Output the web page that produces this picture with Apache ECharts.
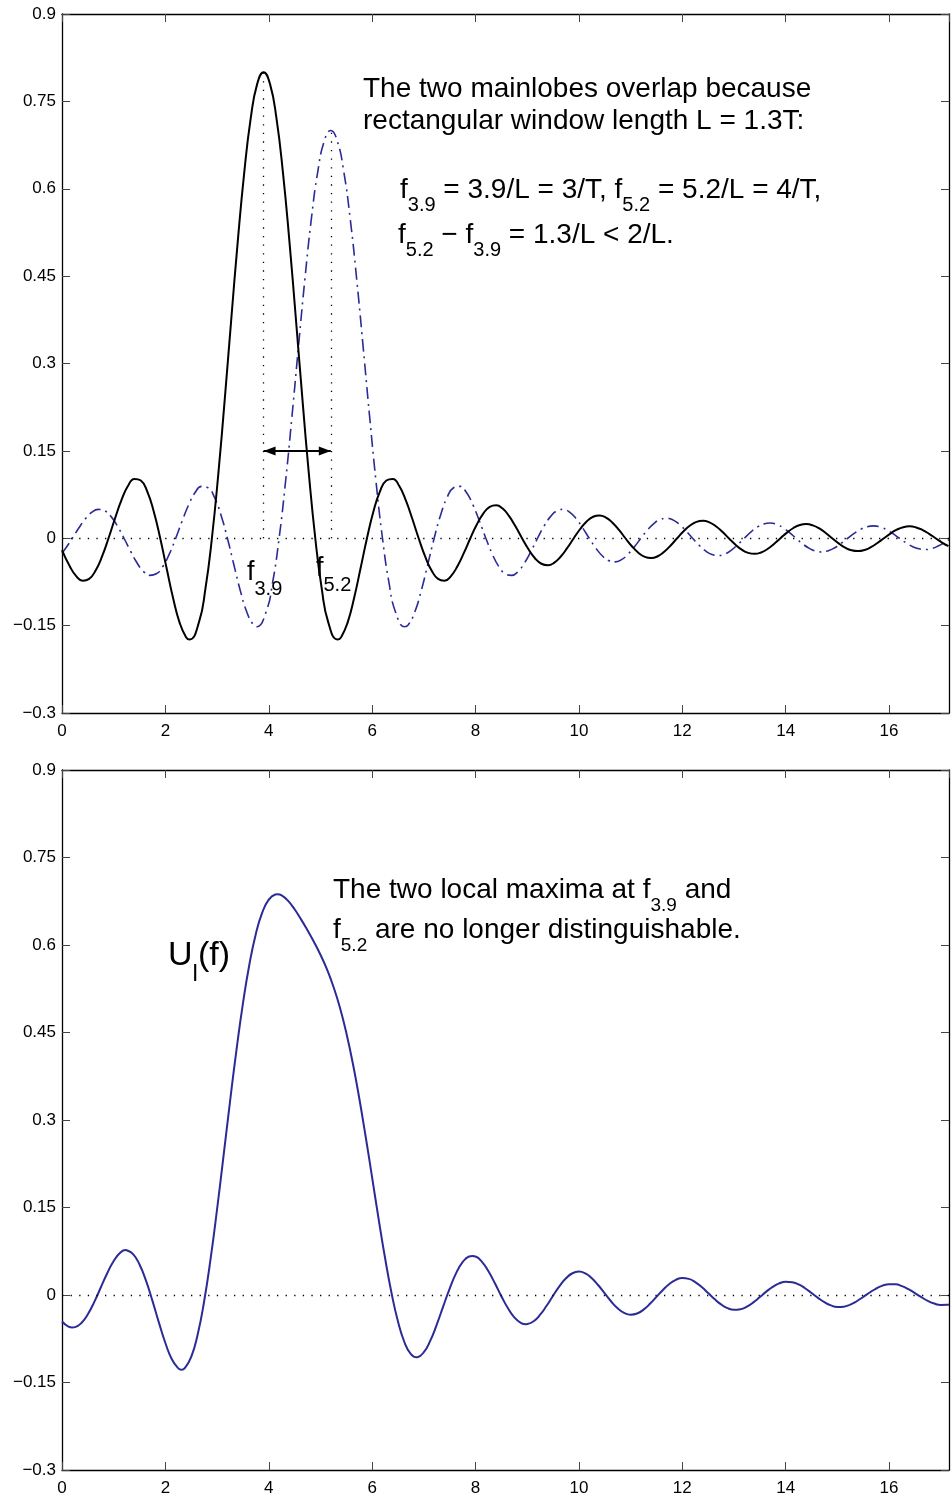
<!DOCTYPE html>
<html>
<head>
<meta charset="utf-8">
<script src="https://cdn.jsdelivr.net/npm/echarts@6/dist/echarts.min.js"></script>
<style>
html,body{margin:0;padding:0;background:#fff;}
#chart{width:952px;height:1501px;}
</style>
</head>
<body>
<div id="chart"></div>
<script>
// ---------------- data: [f, value] ----------------
// top panel, solid black curve (mainlobe at f = 3.9)
const blackCurve = [
  [0,-0.0202],[0.15,-0.0480],[0.275,-0.0649],[0.4,-0.0728],[0.525,-0.0697],[0.65,-0.0554],[0.775,-0.0312],[0.9,0],
  [1.025,0.0339],[1.15,0.0655],[1.275,0.0896],[1.4,0.1019],[1.525,0.0991],[1.65,0.0800],[1.775,0.0459],[1.9,0],
  [2.025,-0.0520],[2.15,-0.1029],[2.275,-0.1448],[2.4,-0.1698],[2.47,-0.1738],[2.65,-0.1440],[2.775,-0.0866],[2.9,0],
  [3.025,0.1114],[3.15,0.2401],[3.275,0.3764],[3.4,0.5093],[3.525,0.6274],[3.65,0.7203],[3.775,0.7796],[3.9,0.8],
  [4.025,0.7796],[4.15,0.7203],[4.275,0.6274],[4.4,0.5093],[4.525,0.3764],[4.65,0.2401],[4.775,0.1114],[4.9,0],
  [5.025,-0.0866],[5.15,-0.1440],[5.33,-0.1738],[5.4,-0.1698],[5.525,-0.1448],[5.65,-0.1029],[5.775,-0.0520],[5.9,0],
  [6.025,0.0459],[6.15,0.0800],[6.275,0.0991],[6.4,0.1019],[6.525,0.0896],[6.65,0.0655],[6.775,0.0339],[6.9,0],
  [7.025,-0.0312],[7.15,-0.0554],[7.275,-0.0697],[7.4,-0.0728],[7.525,-0.0649],[7.65,-0.0480],[7.775,-0.0252],[7.9,0],
  [8.025,0.0236],[8.15,0.0424],[8.275,0.0538],[8.4,0.0566],[8.525,0.0509],[8.65,0.0379],[8.775,0.0200],[8.9,0],
  [9.025,-0.0190],[9.15,-0.0343],[9.275,-0.0438],[9.4,-0.0463],[9.525,-0.0418],[9.65,-0.0313],[9.775,-0.0166],[9.9,0],
  [10.025,0.0159],[10.15,0.0288],[10.275,0.0369],[10.4,0.0392],[10.525,0.0355],[10.65,0.0267],[10.775,0.0142],[10.9,0],
  [11.025,-0.0137],[11.15,-0.0248],[11.275,-0.0319],[11.4,-0.0340],[11.525,-0.0309],[11.65,-0.0232],[11.775,-0.0124],[11.9,0],
  [12.025,0.0120],[12.15,0.0218],[12.275,0.0281],[12.4,0.0300],[12.525,0.0273],[12.65,0.0206],[12.775,0.0110],[12.9,0],
  [13.025,-0.0107],[13.15,-0.0195],[13.275,-0.0251],[13.4,-0.0268],[13.525,-0.0244],[13.65,-0.0185],[13.775,-0.0099],[13.9,0],
  [14.025,0.0096],[14.15,0.0176],[14.275,0.0227],[14.4,0.0243],[14.525,0.0221],[14.65,0.0168],[14.775,0.0090],[14.9,0],
  [15.025,-0.0088],[15.15,-0.0160],[15.275,-0.0207],[15.4,-0.0221],[15.525,-0.0202],[15.65,-0.0153],[15.775,-0.0082],[15.9,0],
  [16.025,0.0080],[16.15,0.0147],[16.275,0.0190],[16.4,0.0204],[16.525,0.0186],[16.65,0.0141],[16.775,0.0076],[16.9,0],
  [17.025,-0.0074],[17.15,-0.0136]
];

// top panel, dash-dot blue curve (mainlobe at f = 5.2)
const blueCurve = [
  [0,-0.0252],[0.075,-0.0166],[0.2,0],[0.325,0.0175],[0.45,0.0332],[0.575,0.0445],[0.7,0.0495],[0.825,0.0471],[0.95,0.0371],[1.075,0.0207],
  [1.2,0],[1.325,-0.0220],[1.45,-0.0420],[1.575,-0.0568],[1.7,-0.0637],[1.825,-0.0610],[1.95,-0.0485],[2.075,-0.0273],
  [2.2,0],[2.325,0.0297],[2.45,0.0573],[2.575,0.0784],[2.7,0.0891],[2.825,0.0867],[2.95,0.0700],[3.075,0.0401],
  [3.2,0],[3.325,-0.0455],[3.45,-0.0900],[3.575,-0.1267],[3.7,-0.1485],[3.77,-0.1520],[3.95,-0.1260],[4.075,-0.0758],
  [4.2,0],[4.325,0.0974],[4.45,0.2101],[4.575,0.3294],[4.7,0.4456],[4.825,0.5489],[4.95,0.6302],[5.075,0.6822],
  [5.2,0.700],[5.325,0.6822],[5.45,0.6302],[5.575,0.5489],[5.7,0.4456],[5.825,0.3294],[5.95,0.2101],[6.075,0.0974],
  [6.2,0],[6.325,-0.0758],[6.45,-0.1260],[6.63,-0.1520],[6.7,-0.1485],[6.825,-0.1267],[6.95,-0.0900],[7.075,-0.0455],
  [7.2,0],[7.325,0.0401],[7.45,0.0700],[7.575,0.0867],[7.7,0.0891],[7.825,0.0784],[7.95,0.0573],[8.075,0.0297],
  [8.2,0],[8.325,-0.0273],[8.45,-0.0485],[8.575,-0.0610],[8.7,-0.0637],[8.825,-0.0568],[8.95,-0.0420],[9.075,-0.0220],
  [9.2,0],[9.325,0.0207],[9.45,0.0371],[9.575,0.0471],[9.7,0.0495],[9.825,0.0445],[9.95,0.0332],[10.075,0.0175],
  [10.2,0],[10.325,-0.0166],[10.45,-0.0300],[10.575,-0.0383],[10.7,-0.0405],[10.825,-0.0366],[10.95,-0.0274],[11.075,-0.0145],
  [11.2,0],[11.325,0.0139],[11.45,0.0252],[11.575,0.0323],[11.7,0.0343],[11.825,0.0311],[11.95,0.0233],[12.075,0.0124],
  [12.2,0],[12.325,-0.0120],[12.45,-0.0217],[12.575,-0.0279],[12.7,-0.0297],[12.825,-0.0270],[12.95,-0.0203],[13.075,-0.0108],
  [13.2,0],[13.325,0.0105],[13.45,0.0191],[13.575,0.0246],[13.7,0.0262],[13.825,0.0239],[13.95,0.0180],[14.075,0.0096],
  [14.2,0],[14.325,-0.0093],[14.45,-0.0170],[14.575,-0.0220],[14.7,-0.0235],[14.825,-0.0214],[14.95,-0.0162],[15.075,-0.0086],
  [15.2,0],[15.325,0.0084],[15.45,0.0154],[15.575,0.0198],[15.7,0.0212],[15.825,0.0194],[15.95,0.0147],[16.075,0.0078],
  [16.2,0],[16.325,-0.0077],[16.45,-0.0140],[16.575,-0.0181],[16.7,-0.0194],[16.825,-0.0177],[16.95,-0.0134],[17.075,-0.0072],
  [17.16,-0.0023]
];

// bottom panel, U_l(f)
const sumCurve = [
  [0,-0.0454],[0.125,-0.0541],[0.2,-0.0556],[0.25,-0.0551],[0.375,-0.0479],[0.5,-0.0329],[0.625,-0.0118],[0.75,0.0128],[0.875,0.0373],
  [1,0.0583],[1.125,0.0724],[1.23,0.0771],[1.25,0.0768],[1.375,0.0701],[1.5,0.0522],[1.625,0.0245],[1.75,-0.0100],[1.875,-0.0473],
  [2,-0.0823],[2.125,-0.1101],[2.25,-0.1257],[2.31,-0.1280],[2.375,-0.1253],[2.5,-0.1062],[2.625,-0.0677],[2.75,-0.0107],[2.875,0.0622],
  [3,0.1470],[3.125,0.2385],[3.25,0.3312],[3.375,0.4198],[3.5,0.4995],[3.625,0.5666],[3.75,0.6190],[3.875,0.6558],
  [4,0.6778],[4.125,0.6866],[4.17,0.6871],[4.25,0.6850],[4.375,0.6756],[4.5,0.6612],[4.625,0.6439],[4.75,0.6251],[4.875,0.6051],
  [5,0.5833],[5.125,0.5586],[5.25,0.5289],[5.375,0.4932],[5.5,0.4495],[5.625,0.3976],[5.75,0.3377],[5.875,0.2713],
  [6,0.2012],[6.125,0.1306],[6.25,0.0634],[6.375,0.0035],[6.5,-0.0455],[6.625,-0.0810],[6.75,-0.1014],[6.86,-0.1068],[6.875,-0.1067],
  [7,-0.0981],[7.125,-0.0783],[7.25,-0.0507],[7.375,-0.0195],[7.5,0.0111],[7.625,0.0374],[7.75,0.0563],[7.875,0.0660],
  [7.94,0.0668],[8,0.0660],[8.125,0.0569],[8.25,0.0407],[8.375,0.0201],[8.5,-0.0020],[8.625,-0.0223],[8.75,-0.0382],[8.875,-0.0477],
  [8.98,-0.0501],[9,-0.0499],[9.125,-0.0449],[9.25,-0.0338],[9.375,-0.0185],[9.5,-0.0013],[9.625,0.0151],[9.75,0.0286],[9.875,0.0373],
  [10,0.0402],[10.125,0.0371],[10.25,0.0288],[10.375,0.0167],[10.5,0.0027],[10.625,-0.0111],[10.75,-0.0228],[10.875,-0.0306],
  [11,-0.0337],[11.125,-0.0317],[11.25,-0.0251],[11.375,-0.0151],[11.5,-0.0033],[11.625,0.0087],[11.75,0.0189],[11.875,0.0260],
  [12,0.0290],[12.125,0.0276],[12.25,0.0222],[12.375,0.0137],[12.5,0.0035],[12.625,-0.0070],[12.75,-0.0161],[12.875,-0.0225],
  [13,-0.0254],[13.125,-0.0245],[13.25,-0.0199],[13.375,-0.0126],[13.5,-0.0035],[13.625,0.0058],[13.75,0.0140],[13.875,0.0199],
  [14,0.0227],[14.125,0.0220],[14.25,0.0181],[14.375,0.0116],[14.5,0.0035],[14.625,-0.0049],[14.75,-0.0124],[14.875,-0.0178],
  [15,-0.0205],[15.125,-0.0200],[15.25,-0.0165],[15.375,-0.0107],[15.5,-0.0034],[15.625,0.0043],[15.75,0.0111],[15.875,0.0161],
  [16,0.0186],[16.125,0.0183],[16.25,0.0152],[16.375,0.0099],[16.5,0.0033],[16.625,-0.0037],[16.75,-0.0101],[16.875,-0.0147],
  [17,-0.0171],[17.125,-0.0169],[17.16,-0.0163]
];

// annotation values
const peakF = [3.9, 5.2];      // mainlobe centres
const peakA = [0.8, 0.7];      // mainlobe heights
const arrowLevel = 0.15;       // height of the double arrow
const xRange = [0, 17.16];
const yRange = [-0.3, 0.9];
const xStep = 2;
const yStep = 0.15;

// ---------------- chart ----------------
const FONT = 'Liberation Sans, Arial, Helvetica, sans-serif';
const BLUE = '#2b2b96';

const grids = [
  {left: 62, top: 14, width: 887, height: 699},
  {left: 62, top: 770, width: 887, height: 700}
];

function xAxes(g) {
  const base = {
    type: 'value', gridIndex: g, min: xRange[0], max: xRange[1], interval: xStep,
    splitLine: {show: false},
    axisLine: {show: true, onZero: false, lineStyle: {color: '#000', width: 1.3}},
    axisTick: {show: true, inside: true, length: 8, lineStyle: {color: '#444', width: 1}}
  };
  return [
    Object.assign({}, base, {position: 'bottom',
      axisLabel: {show: true, color: '#000', fontSize: 17, fontFamily: FONT, margin: 10, showMaxLabel: false}}),
    Object.assign({}, base, {position: 'top', axisLabel: {show: false}})
  ];
}
function yAxes(g) {
  const base = {
    type: 'value', gridIndex: g, min: yRange[0], max: yRange[1], interval: yStep,
    splitLine: {show: false},
    axisLine: {show: true, onZero: false, lineStyle: {color: '#000', width: 1.3}},
    axisTick: {show: true, inside: true, length: 8, lineStyle: {color: '#444', width: 1}}
  };
  return [
    Object.assign({}, base, {position: 'left',
      axisLabel: {show: true, color: '#000', fontSize: 17, fontFamily: FONT, margin: 6,
        formatter: v => String(Math.round(v * 100) / 100).replace('-', '\u2212')}}),
    Object.assign({}, base, {position: 'right', axisLabel: {show: false}})
  ];
}

const dotted = {color: '#000', width: 1.3, type: [1.3, 7.3]};
const SMOOTH = 0.5;

const series = [
  {
    name: 'f3.9', type: 'line', xAxisIndex: 0, yAxisIndex: 0,
    data: blackCurve, showSymbol: false, smooth: SMOOTH, z: 3,
    lineStyle: {color: '#000', width: 2},
    markLine: {
      silent: true, symbol: 'none', animation: false, label: {show: false},
      lineStyle: dotted,
      data: [
        {yAxis: 0},
        [{coord: [peakF[0], 0]}, {coord: [peakF[0], peakA[0]]}],
        [{coord: [peakF[1], 0]}, {coord: [peakF[1], peakA[1]]}]
      ]
    }
  },
  {
    name: 'f5.2', type: 'line', xAxisIndex: 0, yAxisIndex: 0,
    data: blueCurve, showSymbol: false, smooth: SMOOTH, z: 2,
    lineStyle: {color: BLUE, width: 1.6, type: [12, 5, 2, 5]},
    markLine: {
      silent: true, animation: false, label: {show: false},
      symbol: ['triangle', 'triangle'], symbolSize: [9, 12], symbolOffset: [[0, 6], [0, 6]],
      lineStyle: {color: '#000', width: 2, type: 'solid'},
      data: [[{coord: [peakF[0], arrowLevel]}, {coord: [peakF[1], arrowLevel]}]]
    }
  },
  {
    name: 'U', type: 'line', xAxisIndex: 2, yAxisIndex: 2,
    data: sumCurve, showSymbol: false, smooth: SMOOTH, z: 3,
    lineStyle: {color: BLUE, width: 2},
    markLine: {
      silent: true, symbol: 'none', animation: false, label: {show: false},
      lineStyle: dotted,
      data: [{yAxis: 0}]
    }
  }
];

function richText(left, top, text, mainSize, subSize, pad, lh) {
  return {
    type: 'text', left: left, top: top, z: 100,
    style: {
      text: text, fill: '#000', fontFamily: FONT, fontSize: mainSize, lineHeight: lh,
      rich: {
        m: {fontSize: mainSize, fontFamily: FONT, lineHeight: lh, fill: '#000'},
        s: {fontSize: subSize, fontFamily: FONT, lineHeight: lh, padding: [pad, 0, 0, 0], fill: '#000'}
      }
    }
  };
}

const graphics = [
  richText(363, 73, '{m|The two mainlobes overlap because}', 28, 19, 0, 32),
  richText(363, 105, '{m|rectangular window length L = 1.3T:}', 28, 19, 0, 32),
  richText(400, 165, '{m|f}{s|3.9}{m| = 3.9/L = 3/T, f}{s|5.2}{m| = 5.2/L = 4/T,}', 28, 20, 30, 32),
  richText(398, 210, '{m|f}{s|5.2}{m| \u2212 f}{s|3.9}{m| = 1.3/L < 2/L.}', 28, 20, 30, 32),
  richText(247, 547, '{m|f}{s|3.9}', 27, 20, 32, 32),
  richText(316, 543, '{m|f}{s|5.2}', 27, 20, 32, 32),
  richText(333, 866, '{m|The two local maxima at f}{s|3.9}{m| and}', 28, 19, 30, 32),
  richText(333, 906, '{m|f}{s|5.2}{m| are no longer distinguishable.}', 28, 19, 30, 32),
  richText(168, 926, '{m|U}{s|l}{m|(f)}', 34, 24, 36, 40)
];

const chart = echarts.init(document.getElementById('chart'), null, {renderer: 'canvas'});
chart.setOption({
  animation: false,
  backgroundColor: '#fff',
  grid: grids,
  xAxis: xAxes(0).concat(xAxes(1)),
  yAxis: yAxes(0).concat(yAxes(1)),
  series: series,
  graphic: graphics
});
</script>
</body>
</html>
